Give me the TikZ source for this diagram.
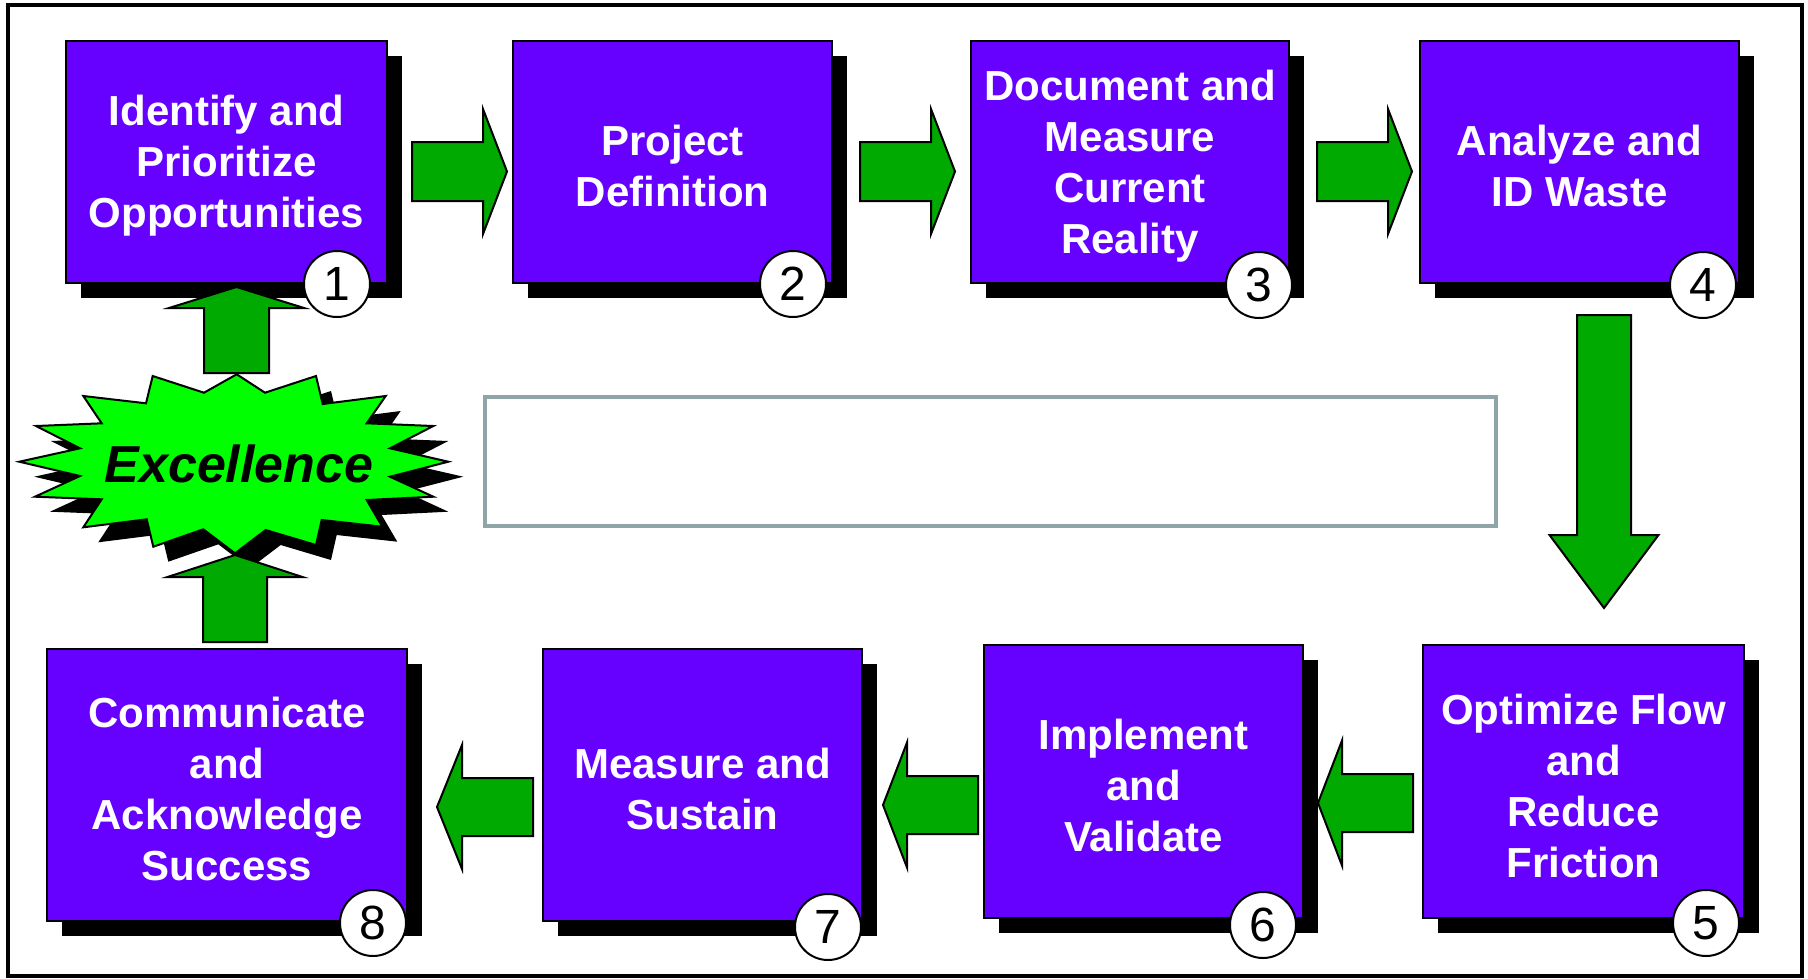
\documentclass[tikz,border=0pt]{standalone}
\usepackage{fontspec}
\setmainfont{Liberation Sans}
\definecolor{stepfill}{HTML}{6600FF}
\definecolor{arrowgreen}{HTML}{00AA00}
\definecolor{burstgreen}{HTML}{00FF00}
\definecolor{panelgray}{HTML}{8FA5A8}
\tikzset{
  stepbox/.style={draw=black, line width=2pt, fill=stepfill, inner sep=0pt},
  steptext/.style={text=white, font=\fontsize{42}{51}\selectfont\bfseries,
    align=center, inner sep=0pt},
  boxshadow/.style={fill=black},
  numdot/.style={circle, draw=black, line width=2pt, fill=white, minimum size=66pt,
    inner sep=0pt, font=\fontsize{48}{48}\selectfont},
  garrow/.style={draw=black, line width=2pt, fill=arrowgreen, line join=miter},
  burst/.style={draw=black, line width=2pt, fill=burstgreen, line join=miter},
}
% stage box: name, left, top, right, bottom, text, badge x, badge y, badge number
\newcommand\stagebox[9]{%
  \fill[boxshadow] (#2+15,#3+15) rectangle (#4+15,#5+15);
  \node[stepbox, minimum width={#4pt-#2pt}, minimum height={#5pt-#3pt}]
    (#1) at ({(#2+#4)/2},{(#3+#5)/2}) {};
  \node[steptext] (#1txt) at ([yshift=-4pt]#1.center) {#6};
  \node[numdot] (#1num) at (#7,#8) {#9};
}
% block arrow: start x, start y, direction, length, body half, head length, head half
\newcommand\blockarrow[7]{%
  \draw[garrow, shift={(#1,#2)}, rotate=#3]
    (0,-#5) -- ({#4-#6},-#5) -- ({#4-#6},-#7) -- (#4,0) -- ({#4-#6},#7)
    -- ({#4-#6},#5) -- (0,#5) -- cycle;
}
\begin{document}
\begin{tikzpicture}[x=1pt,y=-1pt]
\useasboundingbox (0,0) rectangle (1808,978);
% outer frame
\draw[line width=4pt] (7.5,4.5) rectangle (1802,976);

% centre panel
\draw[panelgray, line width=4pt] (485,397) rectangle (1496,526);

% top row
\stagebox{s1}{66}{41}{387}{283}{Identify and\\Prioritize\\Opportunities}{337}{284}{1}
\stagebox{s2}{513}{41}{832}{283}{Project\\Definition}{793}{284}{2}
\stagebox{s3}{971}{41}{1289}{283}{Document and\\Measure\\Current\\Reality}{1259}{285}{3}
\stagebox{s4}{1420}{41}{1739}{283}{Analyze and\\ID Waste}{1703}{285}{4}
% bottom row
\stagebox{s5}{1423}{645}{1744}{918}{Optimize Flow\\and\\Reduce\\Friction}{1706}{923}{5}
\stagebox{s6}{984}{645}{1303}{918}{Implement\\and\\Validate}{1263}{925}{6}
\stagebox{s7}{543}{649}{862}{921}{Measure and\\Sustain}{828}{927}{7}
\stagebox{s8}{47}{649}{407}{921}{Communicate\\and\\Acknowledge\\Success}{373}{923}{8}

% flow arrows, top row (left to right)
\blockarrow{412}{171.5}{0}{95}{29.5}{24}{62.5}
\blockarrow{860}{171.5}{0}{95}{29.5}{24}{62.5}
\blockarrow{1317}{171.5}{0}{95}{29.5}{24}{62.5}
% down to stage 5
\blockarrow{1604}{315}{-90}{293}{27}{73}{54.5}
% bottom row (right to left)
\blockarrow{1413}{803}{180}{95}{29}{24}{62.5}
\blockarrow{978}{805}{180}{95}{29}{24}{62.5}
\blockarrow{533}{807}{180}{96}{29}{25}{62}

% burst with its shadow
\def\burstpath{(236.7,374.3) -- (265,392.7) -- (316,376) -- (322.7,404) -- (385.7,396)
  -- (366.7,423.3) -- (433.3,426) -- (390,448.3) -- (448.3,461.7) -- (390,476.7)
  -- (433.3,496.7) -- (366.7,500) -- (382.3,526.7) -- (321.7,520) -- (316,545)
  -- (265.7,530) -- (235,553.3) -- (203.3,529.3) -- (153.3,546.7) -- (146.7,519.3)
  -- (83.3,527.3) -- (101.7,499.3) -- (35,496.7) -- (80,476) -- (19.3,461.7)
  -- (80,448.3) -- (36,426) -- (101.7,423.3) -- (83.3,396) -- (146,403.3)
  -- (152.7,376) -- (204,392.7) -- cycle}
\fill[black, shift={(15,15)}] \burstpath;
\draw[burst] \burstpath;
\node[font=\fontsize{52}{52}\selectfont\bfseries\itshape, inner sep=0pt] (exc) at (239,464) {Excellence};

% arrows into and out of the burst
\blockarrow{235}{642}{90}{87}{32}{22}{67.5}
\blockarrow{236.5}{373}{90}{86}{32.5}{21}{67.5}
\end{tikzpicture}
\end{document}
